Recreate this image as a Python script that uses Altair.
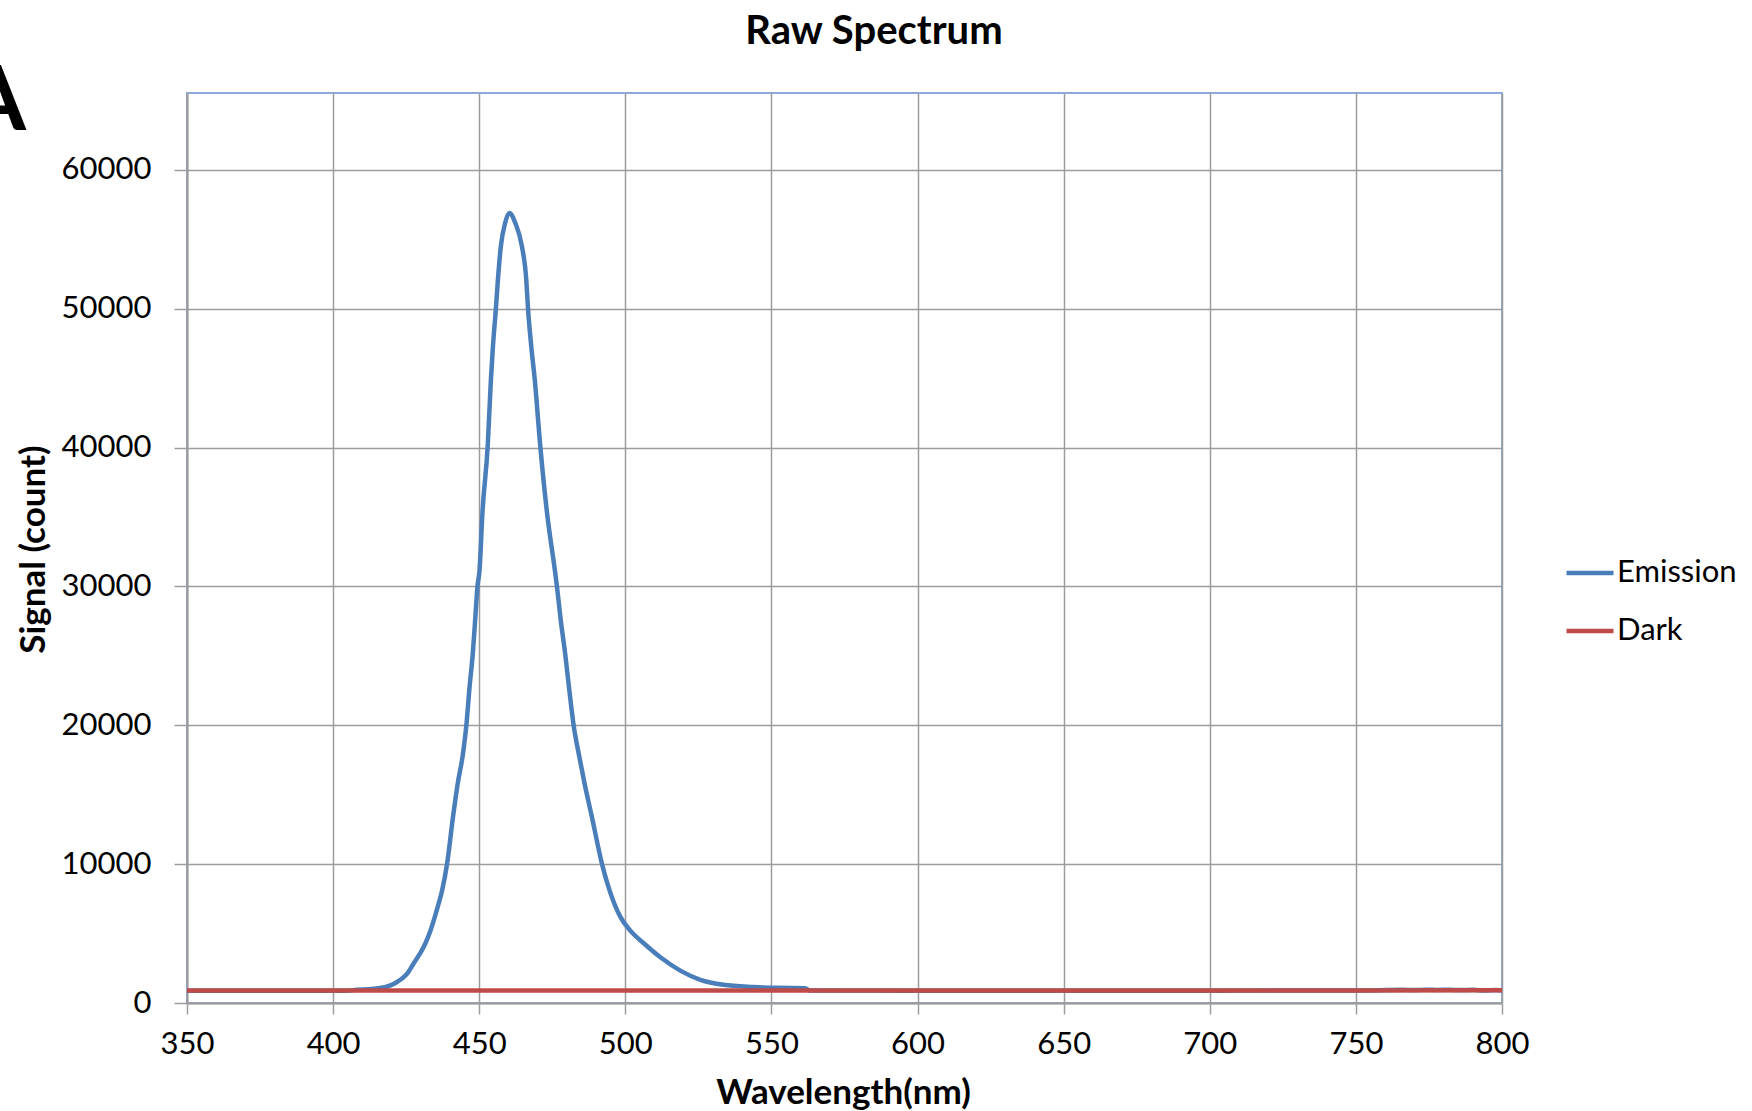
import altair as alt
import pandas as pd

# ---- data ----
emission_nm = [350, 380, 405, 408, 413, 418, 421, 423, 425.5, 427.6, 429.7, 431.6, 433.3, 434.8,
               436.1, 437.3, 439.0, 441.0, 442.6, 444.4, 445.6, 446.7, 447.8, 448.6, 449.4, 450.1,
               451.1, 452.9, 454.0, 454.7, 455.7, 456.4, 457.4, 458.9, 460.3,
               462.3, 464.6, 466.1, 466.7, 467.8, 469.0, 470.9, 473.2, 475.9, 476.6, 477.9,
               479.4, 480.7, 482.3, 484.1, 486.1, 488.6, 492.0, 494.6, 498.3, 501.7, 506.3,
               512.0, 518.8, 525.7, 533.6, 543.9, 552.0, 561.6, 563.0, 600, 650, 700, 750,
               766, 770, 774, 778, 782, 786, 790, 794, 798, 800]
emission_counts = [880, 885, 890, 960, 1000, 1150, 1400, 1670, 2150, 2860, 3550, 4300, 5200, 6200,
                   7150, 8110, 10020, 13360, 15750, 17900, 20000, 22770, 25170, 27560, 30000, 31150,
                   35300, 40100, 44900, 47300, 50000, 52100, 54500, 56200, 56900,
                   56200, 54500, 52100, 50000, 47300, 44900, 40100, 35300, 31150, 30000, 27560,
                   25170, 22770, 20000, 17900, 15750, 13360, 10020, 8110, 6200, 5210, 4300,
                   3290, 2330, 1670, 1310, 1150, 1090, 1070, 900, 890, 890, 890, 895,
                   950, 930, 960, 940, 955, 935, 950, 900, 945, 900]

dark_nm = [350, 400, 450, 500, 550, 600, 650, 700, 750, 800]
dark_counts = [900, 900, 900, 900, 900, 900, 900, 900, 905, 920]

series_names = ["Emission", "Dark"]
series_colors = ["#4A7EBB", "#BE4B48"]

x_ticks = [350, 400, 450, 500, 550, 600, 650, 700, 750, 800]
y_ticks = [0, 10000, 20000, 30000, 40000, 50000, 60000]

title_text = "Raw Spectrum"
panel_letter = "A"

# ---- tables ----
df_em = pd.DataFrame({"Wavelength": emission_nm, "Signal": emission_counts, "Series": "Emission"})
df_dk = pd.DataFrame({"Wavelength": dark_nm, "Signal": dark_counts, "Series": "Dark"})

FONT = "Lato"
GRID = "#9c9c9c"

x_enc = alt.X("Wavelength:Q",
              scale=alt.Scale(domain=[350, 800], nice=False, zero=False),
              axis=alt.Axis(values=x_ticks, title="Wavelength(nm)", format="d",
                            tickSize=11, labelPadding=30, labelBaseline="middle",
                            labelFlush=False, labelOverlap=False,
                            titleX=656, titleY=89, titleBaseline="middle", titleAlign="center"))
y_enc = alt.Y("Signal:Q",
              scale=alt.Scale(domain=[0, 65535], nice=False),
              axis=alt.Axis(values=y_ticks, title="Signal (count)", format="d",
                            tickSize=13, labelPadding=23, labelFlush=False, labelOverlap=False,
                            titleX=-154, titleY=456, titleAngle=270,
                            titleBaseline="middle", titleAlign="center"))
color_enc = alt.Color("Series:N",
                      scale=alt.Scale(domain=series_names, range=series_colors),
                      legend=alt.Legend(title=None, orient="none", legendX=1377, legendY=454,
                                        symbolType="stroke", symbolSize=2209,
                                        symbolStrokeWidth=4.5, labelFontSize=31, labelFont=FONT,
                                        labelColor="#000000", labelOffset=1, rowPadding=17,
                                        padding=0))

emission = alt.Chart(df_em).mark_line(strokeWidth=4.5, interpolate="monotone").encode(
    x=x_enc, y=y_enc, color=color_enc)
dark = alt.Chart(df_dk).mark_line(strokeWidth=4.5).encode(x=x_enc, y=y_enc, color=color_enc)

title_layer = alt.Chart(pd.DataFrame({"t": [title_text]})).mark_text(
    font=FONT, fontSize=40, fontWeight="bold", align="center", baseline="alphabetic",
    color="#000000").encode(x=alt.value(687), y=alt.value(-49), text="t:N")

letter_layer = alt.Chart(pd.DataFrame({"t": [panel_letter]})).mark_text(
    font=FONT, fontSize=90, fontWeight="bold", align="right", baseline="alphabetic",
    color="#000000").encode(x=alt.value(-161), y=alt.value(37), text="t:N")

chart = alt.layer(emission, dark, title_layer, letter_layer).properties(
    width=1315, height=910,
    autosize=alt.AutoSizeParams(type="none"),
    padding={"left": 187, "top": 93, "right": 250, "bottom": 108},
    background="#ffffff",
).configure_view(
    stroke="#8EAADB", strokeWidth=2
).configure_axis(
    labelFont=FONT, labelFontSize=31, labelColor="#000000",
    titleFont=FONT, titleFontSize=35, titleFontWeight="bold", titleColor="#000000",
    grid=True, gridColor=GRID, gridWidth=1.5,
    domainColor=GRID, domainWidth=2, tickColor=GRID, tickWidth=1.5,
)

chart.save("out.html", embed_options={"renderer": "svg", "actions": False})
